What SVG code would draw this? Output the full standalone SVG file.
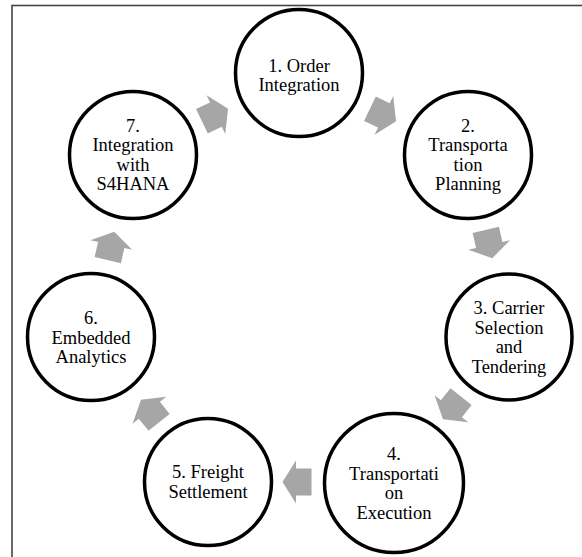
<svg xmlns="http://www.w3.org/2000/svg" width="582" height="557" viewBox="0 0 582 557">
<style>
.node circle{fill:#fff;stroke:#000;stroke-width:3.5}
.node text{font-family:'Liberation Serif','Times New Roman','DejaVu Serif',serif;font-size:18.5px;fill:#000;text-anchor:middle}
.arr{fill:#a6a6a6}
</style>
<defs>
<path id="ar" d="M-14.5,-13.5 H1 V-21.5 L14.5,0 L1,21.5 V13.5 H-14.5 Z"/>
</defs>
<rect x="12" y="5.5" width="600" height="600" fill="#fff" stroke="#444" stroke-width="1.6"/>
<g id="connectors" class="arr">
<use href="#ar" transform="translate(383,115) rotate(25.7)"/>
<use href="#ar" transform="translate(489,244) rotate(77.1)"/>
<use href="#ar" transform="translate(452,408) rotate(128.6)"/>
<use href="#ar" transform="translate(297,482) rotate(180)"/>
<use href="#ar" transform="translate(150,411) rotate(231.4)"/>
<use href="#ar" transform="translate(111,246) rotate(282.9)"/>
<use href="#ar" transform="translate(215,115) rotate(334.3)"/>
</g>
<g id="n1" class="node" font-family="Liberation Serif, serif"><circle cx="299" cy="73" r="63.5"/>
<text x="299" y="71.5">1. Order</text><text x="299" y="91">Integration</text></g>
<g id="n2" class="node"><circle cx="468" cy="155" r="63.5"/>
<text x="468" y="131.5">2.</text><text x="468" y="151">Transporta</text><text x="468" y="170.5">tion</text><text x="468" y="190">Planning</text></g>
<g id="n3" class="node"><circle cx="509" cy="337" r="63"/>
<text x="509" y="314">3. Carrier</text><text x="509" y="333.5">Selection</text><text x="509" y="353">and</text><text x="509" y="372.5">Tendering</text></g>
<g id="n4" class="node"><circle cx="394" cy="483" r="69.5"/>
<text x="394" y="460">4.</text><text x="394" y="479.5">Transportati</text><text x="394" y="499">on</text><text x="394" y="518.5">Execution</text></g>
<g id="n5" class="node"><circle cx="208" cy="482" r="63.5"/>
<text x="208" y="478">5. Freight</text><text x="208" y="497.5">Settlement</text></g>
<g id="n6" class="node"><circle cx="91" cy="337" r="63.5"/>
<text x="91" y="324">6.</text><text x="91" y="343.5">Embedded</text><text x="91" y="363">Analytics</text></g>
<g id="n7" class="node"><circle cx="133" cy="155" r="63.5"/>
<text x="133" y="131.5">7.</text><text x="133" y="151">Integration</text><text x="133" y="170.5">with</text><text x="133" y="190">S4HANA</text></g>
</svg>
